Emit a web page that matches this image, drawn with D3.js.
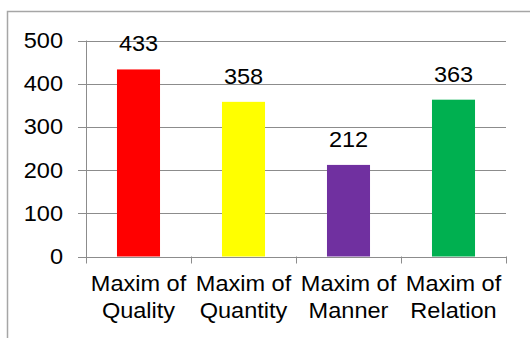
<!DOCTYPE html>
<html><head><meta charset="utf-8">
<script src="https://cdn.jsdelivr.net/npm/d3@7"></script>
<style>
html,body{margin:0;padding:0;background:#fff;}
text{font-family:"Liberation Sans",Arial,sans-serif;fill:#000;}
</style></head>
<body>
<svg id="chart" width="530" height="338"></svg>
<script>
const categories = ["Maxim of Quality","Maxim of Quantity","Maxim of Manner","Maxim of Relation"];
const catLine1 = ["Maxim of","Maxim of","Maxim of","Maxim of"];
const catLine2 = ["Quality","Quantity","Manner","Relation"];
const values = [433, 358, 212, 363];
const colors = ["#FF0000","#FFFF00","#7030A0","#00B050"];
const yTicks = [0,100,200,300,400,500];

const svg = d3.select("#chart");
const fs = 22;
const sx = 1.07;
const gridColor = "#8c8c8c";

svg.append("path").attr("d","M7.5,338 V11.5 H530").attr("fill","none").attr("stroke","#a6a6a6").attr("stroke-width",1.5);

const x = d3.scaleBand().domain(categories).range([86,506]).paddingInner(0.59).paddingOuter(0.295);
const xo = d3.scaleBand().domain(categories).range([86,506]).padding(0);
const y = d3.scaleLinear().domain([0,500]).range([256.5,40.5]);

svg.append("g").selectAll("line").data(yTicks).join("line")
  .attr("x1",78).attr("x2",506)
  .attr("y1",d=>Math.round(y(d))+0.5).attr("y2",d=>Math.round(y(d))+0.5)
  .attr("stroke",gridColor).attr("stroke-width",1);

svg.append("line").attr("x1",86.5).attr("x2",86.5).attr("y1",y(500)).attr("y2",y(0)+1)
  .attr("stroke",gridColor);

const xt = categories.map(c=>xo(c)).concat([506]);
svg.append("g").selectAll("line").data(xt).join("line")
  .attr("x1",d=>Math.round(d)+0.5).attr("x2",d=>Math.round(d)+0.5)
  .attr("y1",y(0)).attr("y2",y(0)+7).attr("stroke",gridColor);

function stretched(sel, xf, yf, anchor){
  sel.attr("transform",(d,i)=>`translate(${xf(d,i)},${yf(d,i)}) scale(${sx},1)`)
     .attr("text-anchor",anchor).attr("font-size",fs);
}

stretched(svg.append("g").selectAll("text").data(yTicks).join("text").text(d=>d),
  ()=>63, d=>y(d)+7.5, "end");

svg.append("g").selectAll("rect").data(values).join("rect")
  .attr("x",(d,i)=>x(categories[i])).attr("width",x.bandwidth())
  .attr("y",d=>y(d)).attr("height",d=>y(0)-y(d))
  .attr("fill",(d,i)=>colors[i]);

stretched(svg.append("g").selectAll("text").data(values).join("text").text(d=>d),
  (d,i)=>x(categories[i])+x.bandwidth()/2, d=>y(d)-18, "middle");

const cl = svg.append("g").selectAll("text").data(categories).join("text");
stretched(cl, d=>xo(d)+xo.bandwidth()/2, ()=>291, "middle");
cl.append("tspan").attr("x",0).attr("y",0).text((d,i)=>catLine1[i]);
cl.append("tspan").attr("x",0).attr("y",27.5).text((d,i)=>catLine2[i]);
</script>
</body></html>
